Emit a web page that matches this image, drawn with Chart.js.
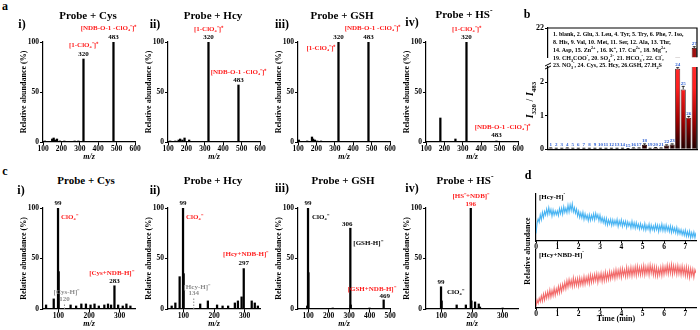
<!DOCTYPE html>
<html>
<head>
<meta charset="utf-8">
<script src="https://cdn.jsdelivr.net/npm/chart.js@4/dist/chart.umd.min.js"></script>
<style>
body { margin: 0; background: #fff; }
#fig { position: relative; width: 700px; height: 330px; overflow: hidden; background: #fff;
  font-family: "Liberation Serif", "Times New Roman", serif; font-weight: bold; color: #000; }
#fig canvas { position: absolute; }
.t { position: absolute; transform: translate(-50%, -50%); white-space: nowrap; line-height: 1; }
.l { transform: translate(0, -50%); }
.rot { transform: translate(-50%, -50%) rotate(-90deg); }
sup, sub { font-size: 70%; line-height: 0; }
</style>
</head>
<body>
<div id="fig"></div>
<script>
// ---- a) Probe + Analyt, Massenspektren (m/z, relative Intensität %)
const aCysMz = [110, 150, 158, 166, 176, 192, 216, 272, 292, 320, 483];
const aCysAb = [1, 3, 4, 2, 3, 1, 1, 1, 1, 83, 100];
const aHcyMz = [112, 140, 158, 166, 178, 190, 215, 320, 483];
const aHcyAb = [1, 1, 2, 3, 2, 4, 2, 100, 57];
const aGshMz = [105, 150, 176, 182, 192, 205, 225, 320, 483];
const aGshAb = [2, 1, 5, 3, 2, 1, 1, 100, 100];
const aHsMz = [178, 260, 320, 483];
const aHsAb = [24, 3, 100, 1];
const aTicks = [100, 200, 300, 400, 500, 600];

// ---- c) Probe + Analyt, negativer Modus
const cCysMz = [60, 85, 99, 101, 140, 158, 175, 190, 205, 218, 232, 250, 262, 272, 283, 295, 310, 322, 335];
const cCysAb = [4, 10, 100, 37, 4, 3, 5, 5, 4, 5, 3, 4, 5, 4, 23, 4, 3, 5, 3];
const cHcyMz = [62, 74, 88, 99, 101, 155, 180, 210, 228, 246, 268, 278, 290, 297, 323, 333, 343];
const cHcyAb = [3, 6, 32, 100, 35, 5, 8, 4, 3, 3, 6, 8, 12, 40, 8, 6, 3];
const cGshMz = [95, 99, 101, 220, 306, 308, 400, 469];
const cGshAb = [3, 100, 36, 1, 80, 4, 1, 9];
const cHsMz = [99, 101, 150, 180, 196, 198, 210, 222, 226, 300];
const cHsAb = [22, 8, 4, 4, 100, 8, 7, 5, 2, 1];
const cTicks = [100, 200, 300];
const cTicksGsh = [100, 200, 300, 400, 500];

// ---- b) Selektivität I320/I483
const bLabels = ['1','2','3','4','5','6','7','8','9','10','11','12','13','14','15','16','17','18','19','20','21','22','23','24','25','26','27'];
const bRatio = [0.03, 0.02, 0.02, 0.03, 0.02, 0.02, 0.02, 0.02, 0.02, 0.02, 0.02, 0.02, 0.02, 0.02, 0.01, 0.03, 0.03, 0.13, 0.02, 0.04, 0.03, 0.11, 0.14, 2.41, 1.79, 0.94, 8.6];
const bErr = [0.01, 0.01, 0.01, 0.01, 0.01, 0.01, 0.01, 0.01, 0.01, 0.01, 0.01, 0.01, 0.01, 0.01, 0.01, 0.01, 0.01, 0.03, 0.01, 0.01, 0.01, 0.02, 0.02, 0.03, 0.09, 0.04, 0.9];

// ---- d) Zeitverlauf (min)
const dTime = [0, 0.05, 0.1, 0.15, 0.2, 0.25, 0.3, 0.35, 0.4, 0.45,
  0.5, 0.55, 0.6, 0.65, 0.7, 0.75, 0.8, 0.85, 0.9, 0.95,
  1, 1.05, 1.1, 1.15, 1.2, 1.25, 1.3, 1.35, 1.4, 1.45,
  1.5, 1.55, 1.6, 1.65, 1.7, 1.75, 1.8, 1.85, 1.9, 1.95,
  2, 2.05, 2.1, 2.15, 2.2, 2.25, 2.3, 2.35, 2.4, 2.45,
  2.5, 2.55, 2.6, 2.65, 2.7, 2.75, 2.8, 2.85, 2.9, 2.95,
  3, 3.05, 3.1, 3.15, 3.2, 3.25, 3.3, 3.35, 3.4, 3.45,
  3.5, 3.55, 3.6, 3.65, 3.7, 3.75, 3.8, 3.85, 3.9, 3.95,
  4, 4.05, 4.1, 4.15, 4.2, 4.25, 4.3, 4.35, 4.4, 4.45,
  4.5, 4.55, 4.6, 4.65, 4.7, 4.75, 4.8, 4.85, 4.9, 4.95,
  5, 5.05, 5.1, 5.15, 5.2, 5.25, 5.3, 5.35, 5.4, 5.45,
  5.5, 5.55, 5.6, 5.65, 5.7, 5.75, 5.8, 5.85, 5.9, 5.95,
  6, 6.05, 6.1, 6.15, 6.2, 6.25, 6.3, 6.35, 6.4, 6.45,
  6.5, 6.55, 6.6, 6.65, 6.7, 6.75, 6.8, 6.85, 6.9, 6.95,
  7, 7.05, 7.1, 7.15, 7.2, 7.25, 7.3, 7.35, 7.4, 7.45, 7.5];
const dHcy = [16, 38, 47, 40, 56, 45, 61, 50, 63, 55,
  68, 56, 71, 58, 67, 53, 66, 55, 64, 56,
  64, 54, 69, 58, 70, 57, 73, 61, 70, 60,
  76, 62, 77, 65, 79, 62, 71, 59, 68, 53,
  63, 50, 60, 49, 61, 46, 58, 47, 55, 43,
  56, 44, 55, 46, 58, 45, 59, 48, 56, 43,
  55, 41, 50, 39, 49, 36, 48, 34, 45, 36,
  46, 33, 45, 34, 44, 35, 46, 31, 43, 34,
  45, 31, 42, 33, 42, 29, 41, 32, 39, 28,
  42, 29, 39, 27, 39, 28, 36, 25, 37, 26,
  34, 24, 37, 23, 33, 25, 36, 21, 34, 24,
  32, 22, 35, 24, 34, 20, 33, 23, 36, 22,
  33, 21, 34, 22, 31, 20, 32, 18, 30, 19,
  28, 17, 29, 15, 25, 15, 24, 13, 22, 12,
  23, 10, 20, 10, 21, 7, 18, 8, 19, 7, 18];
const dHcyNbd = [3, 14, 8, 17, 11, 21, 12, 24, 14, 26,
  17, 28, 18, 31, 19, 30, 21, 34, 22, 33,
  25, 37, 26, 39, 28, 41, 32, 44, 33, 47,
  36, 49, 38, 48, 37, 52, 38, 50, 39, 51,
  38, 52, 40, 51, 40, 54, 41, 53, 43, 55,
  42, 57, 44, 56, 45, 58, 47, 59, 44, 58,
  48, 60, 46, 59, 47, 62, 48, 60, 49, 63,
  50, 62, 52, 64, 51, 66, 53, 65, 54, 67,
  53, 68, 56, 66, 54, 70, 55, 68, 56, 70,
  55, 69, 57, 71, 56, 72, 58, 70, 57, 71,
  58, 73, 57, 71, 59, 72, 57, 74, 60, 72,
  57, 71, 56, 70, 55, 68, 57, 70, 56, 72,
  58, 71, 60, 74, 59, 73, 60, 75, 58, 73,
  60, 72, 58, 73, 59, 71, 57, 72, 58, 70,
  56, 71, 55, 69, 53, 68, 56, 67, 53, 66, 60];

const FONT = '"Liberation Serif", "Times New Roman", serif';
const RED = '#ff1e1e';
const fig = document.getElementById('fig');

function addCanvas(left, top, w, h) {
  const c = document.createElement('canvas');
  c.width = w; c.height = h;
  c.style.left = left + 'px'; c.style.top = top + 'px';
  c.style.width = w + 'px'; c.style.height = h + 'px';
  fig.appendChild(c);
  return c;
}

function addText(html, x, y, size, cls) {
  const d = document.createElement('div');
  d.className = 't' + (cls ? ' ' + cls : '');
  d.style.left = x + 'px'; d.style.top = y + 'px';
  d.style.fontSize = size + 'px';
  d.innerHTML = html;
  fig.appendChild(d);
}

// Beschriftungen an Peaks (Datenkoordinaten + Pixelversatz)
function notes(items) {
  return {
    id: 'notes',
    afterDatasetsDraw(chart) {
      const ctx = chart.ctx, sx = chart.scales.x, sy = chart.scales.y;
      ctx.save();
      items.forEach(n => {
        ctx.font = 'bold ' + (n.size || 7) + 'px ' + FONT;
        ctx.fillStyle = n.color || '#000';
        ctx.textAlign = n.align || 'center';
        ctx.textBaseline = 'middle';
        ctx.fillText(n.text, sx.getPixelForValue(n.x) + (n.dx || 0), sy.getPixelForValue(n.y) + (n.dy || 0));
      });
      ctx.restore();
    }
  };
}

const tickFont = { family: FONT, size: 7.5, weight: 'bold' };

function spectrum(o) {
  const padL = 4, yW = 28, plotW = 92, padR = 44, xH = 20;
  const cv = addCanvas(o.axisX - padL - yW, o.top - o.T, padL + yW + plotW + padR, o.T + (o.bottom - o.top) + xH);
  const datasets = [{
    type: 'bar',
    data: o.mz.map((m, i) => ({ x: m, y: o.ab[i] })),
    backgroundColor: '#000',
    barThickness: 1.6,
    grouped: false
  }];
  if (o.dashX) {
    datasets.push({
      type: 'line',
      data: [{ x: o.dashX, y: 0 }, { x: o.dashX, y: o.dashY }],
      borderColor: '#8c8c8c', borderWidth: 1, borderDash: [1.5, 1.5], pointRadius: 0
    });
  }
  new Chart(cv, {
    type: 'bar',
    data: { datasets },
    options: {
      responsive: false,
      animation: false,
      layout: { padding: { left: padL, top: o.T, right: padR, bottom: 0 } },
      plugins: { legend: { display: false }, tooltip: { enabled: false } },
      scales: {
        x: {
          type: 'linear', min: o.min, max: o.max, offset: false,
          grid: { display: true, drawOnChartArea: false, drawTicks: true, tickLength: 3, color: '#000', offset: false },
          border: { color: '#000', width: 1.2 },
          ticks: { font: tickFont, color: '#000', padding: 0, maxRotation: 0, autoSkip: false },
          afterBuildTicks: s => { s.ticks = o.ticks.map(v => ({ value: v })); },
          afterFit: s => { s.height = xH; },
          title: { display: true, text: 'm/z', color: '#000', padding: { top: 0, bottom: 0 },
            font: { family: FONT, size: 8, weight: 'bold', style: 'italic' } }
        },
        y: {
          min: 0, max: 100,
          grid: { display: true, drawOnChartArea: false, drawTicks: true, tickLength: 3, color: '#000' },
          border: { color: '#000', width: 1.2 },
          ticks: { font: tickFont, color: '#000', padding: 1 },
          afterBuildTicks: s => { s.ticks = [0, 50, 100].map(v => ({ value: v })); },
          afterFit: s => { s.width = yW; },
          title: { display: true, text: 'Relative abundance (%)', color: '#000', padding: { top: 4, bottom: 0 },
            font: { family: FONT, size: 8, weight: 'bold' } }
        }
      }
    },
    plugins: [notes(o.notes)]
  });
}

const NDB = '[NDB-O-1 -ClO₄⁻]⁺';
const ONE = '[1-ClO₄⁻]⁺';

// ---- Panel a
spectrum({ axisX: 43, top: 42, bottom: 142, T: 22, min: 100, max: 600, ticks: aTicks, mz: aCysMz, ab: aCysAb, notes: [
  { x: 483, y: 100, text: '483', dy: -5 }, { x: 483, y: 100, text: NDB, color: RED, dy: -14, dx: -5 },
  { x: 320, y: 83, text: '320', dy: -5 }, { x: 320, y: 83, text: ONE, color: RED, dy: -14 } ] });
spectrum({ axisX: 168, top: 42, bottom: 142, T: 22, min: 100, max: 600, ticks: aTicks, mz: aHcyMz, ab: aHcyAb, notes: [
  { x: 320, y: 100, text: '320', dy: -5 }, { x: 320, y: 100, text: ONE, color: RED, dy: -13 },
  { x: 483, y: 57, text: '483', dy: -5 }, { x: 483, y: 57, text: NDB, color: RED, dy: -13 } ] });
spectrum({ axisX: 298, top: 42, bottom: 142, T: 22, min: 100, max: 600, ticks: aTicks, mz: aGshMz, ab: aGshAb, notes: [
  { x: 320, y: 100, text: '320', dy: -5 }, { x: 320, y: 100, text: ONE, color: RED, align: 'right', dx: -3, dy: 6 },
  { x: 483, y: 100, text: '483', dy: -5 }, { x: 483, y: 100, text: NDB, color: RED, dy: -14, dx: 4 } ] });
spectrum({ axisX: 426, top: 42, bottom: 142, T: 22, min: 100, max: 600, ticks: aTicks, mz: aHsMz, ab: aHsAb, notes: [
  { x: 320, y: 100, text: '320', dy: -5 }, { x: 320, y: 100, text: ONE, color: RED, dy: -13 },
  { x: 483, y: 1, text: '483', dy: -6 }, { x: 483, y: 1, text: NDB, color: RED, dy: -14, dx: 6 } ] });

// ---- Panel c
spectrum({ axisX: 43, top: 208, bottom: 309, T: 16, min: 50, max: 350, ticks: cTicks, mz: cCysMz, ab: cCysAb,
  dashX: 120, dashY: 6, notes: [
  { x: 99, y: 100, text: '99', dy: -5 }, { x: 99, y: 100, text: 'ClO₄⁻', color: RED, align: 'left', dx: 3, dy: 9 },
  { x: 120, y: 6, text: '120', color: '#8c8c8c', dy: -4 }, { x: 120, y: 6, text: '[Cys-H]⁻', color: '#8c8c8c', dy: -11, dx: 2 },
  { x: 283, y: 23, text: '283', dy: -5 }, { x: 283, y: 23, text: '[Cys+NDB-H]⁻', color: RED, dy: -13, dx: -3 } ] });
spectrum({ axisX: 168, top: 208, bottom: 309, T: 16, min: 50, max: 350, ticks: cTicks, mz: cHcyMz, ab: cHcyAb,
  dashX: 134, dashY: 11, notes: [
  { x: 99, y: 100, text: '99', dy: -5 }, { x: 99, y: 100, text: 'ClO₄⁻', color: RED, align: 'left', dx: 3, dy: 9 },
  { x: 134, y: 11, text: '134', color: '#8c8c8c', dy: -5 }, { x: 134, y: 11, text: '[Hcy-H]⁻', color: '#8c8c8c', dy: -11, dx: 3 },
  { x: 297, y: 40, text: '297', dy: -5 }, { x: 297, y: 40, text: '[Hcy+NDB-H]⁻', color: RED, dy: -14, dx: 2 } ] });
spectrum({ axisX: 298, top: 208, bottom: 309, T: 16, min: 50, max: 500, ticks: cTicksGsh, mz: cGshMz, ab: cGshAb, notes: [
  { x: 99, y: 100, text: '99', dy: -5 }, { x: 99, y: 100, text: 'ClO₄⁻', align: 'left', dx: 4, dy: 9 },
  { x: 306, y: 80, text: '306', dy: -4, dx: -3 }, { x: 306, y: 80, text: '[GSH-H]⁻', align: 'left', dx: 3, dy: 15 },
  { x: 469, y: 9, text: '469', dy: -4, dx: 1 }, { x: 469, y: 9, text: '[GSH+NDB-H]⁻', color: RED, dy: -11, dx: -12 } ] });
spectrum({ axisX: 426, top: 208, bottom: 309, T: 16, min: 50, max: 350, ticks: cTicks, mz: cHsMz, ab: cHsAb, notes: [
  { x: 196, y: 100, text: '196', color: RED, dy: -4 }, { x: 196, y: 100, text: '[HS⁻+NDB]⁻', color: RED, dy: -12 },
  { x: 99, y: 22, text: '99', dy: -5 }, { x: 99, y: 22, text: 'ClO₄⁻', align: 'left', dx: 6, dy: 5 } ] });

// ---- Panel b (gebrochene y-Achse: zwei Diagramme)
function barFill(c) {
  const a = c.chart.chartArea;
  if (!a) return '#b00000';
  const g = c.chart.ctx.createLinearGradient(0, a.bottom, 0, a.top);
  g.addColorStop(0, '#1e0000');
  g.addColorStop(0.35, '#a00000');
  g.addColorStop(0.75, '#ff1f1f');
  g.addColorStop(1, '#ff2a2a');
  return g;
}

function barMarks() {
  return {
    id: 'barMarks',
    afterDatasetsDraw(chart) {
      const ctx = chart.ctx, sy = chart.scales.y, meta = chart.getDatasetMeta(0);
      ctx.save();
      meta.data.forEach((bar, i) => {
        const v = bRatio[i], e = bErr[i];
        if (v > sy.max || v < sy.min) return;
        const yv = sy.getPixelForValue(v), ye = sy.getPixelForValue(v + e);
        ctx.strokeStyle = '#000'; ctx.lineWidth = 0.8;
        ctx.beginPath();
        ctx.moveTo(bar.x, yv); ctx.lineTo(bar.x, ye);
        ctx.moveTo(bar.x - 1.5, ye); ctx.lineTo(bar.x + 1.5, ye);
        ctx.stroke();
        ctx.fillStyle = '#2d5fd3';
        ctx.font = 'bold 5px ' + FONT;
        ctx.textAlign = 'center'; ctx.textBaseline = 'bottom';
        ctx.fillText(bLabels[i], bar.x, ye - 0.5);
      });
      ctx.restore();
    }
  };
}

function frame(top, brk) {
  return {
    id: 'frame',
    afterDraw(chart) {
      const { ctx, chartArea: a } = chart;
      ctx.save();
      ctx.strokeStyle = '#000'; ctx.lineWidth = 1.2;
      ctx.beginPath();
      ctx.moveTo(a.right, a.bottom); ctx.lineTo(a.right, a.top);
      if (top) ctx.lineTo(a.left, a.top);
      ctx.stroke();
      if (brk) {
        ctx.lineWidth = 1;
        ctx.beginPath();
        ctx.moveTo(a.left - 3, a.top - 1); ctx.lineTo(a.left + 3, a.top - 4);
        ctx.moveTo(a.left - 3, a.top + 2); ctx.lineTo(a.left + 3, a.top - 1);
        ctx.stroke();
      }
      ctx.restore();
    }
  };
}

function ratioChart(cv, padTop, min, max, ticks, xH, fill, top, brk) {
  new Chart(cv, {
    type: 'bar',
    data: { labels: bLabels, datasets: [{ data: bRatio, backgroundColor: fill, borderColor: '#220000', borderWidth: 0.8,
      categoryPercentage: 1, barPercentage: 0.92, clip: 0 }] },
    options: {
      responsive: false, animation: false,
      layout: { padding: { left: 0, top: padTop, right: 3, bottom: 0 } },
      plugins: { legend: { display: false }, tooltip: { enabled: false } },
      scales: {
        x: { display: xH > 0, ticks: { display: false }, grid: { display: false }, border: { color: '#000', width: 1.2 },
          afterFit: s => { s.height = xH; } },
        y: {
          min, max,
          grid: { display: true, drawOnChartArea: false, drawTicks: true, tickLength: 3, color: '#000' },
          border: { color: '#000', width: 1.2 },
          ticks: { font: { family: FONT, size: 8, weight: 'bold' }, color: '#000', padding: 1 },
          afterBuildTicks: s => { s.ticks = ticks.map(v => ({ value: v })); },
          afterFit: s => { s.width = 12; }
        }
      }
    },
    plugins: [barMarks(), frame(top, brk)]
  });
}

ratioChart(addCanvas(536, 20, 164, 43), 8, 2.46, 22, [22], 0, '#a01010', true, false);
ratioChart(addCanvas(536, 60, 164, 95), 7, 0, 2.46, [0, 1, 2], 2, barFill, false, true);

// ---- Panel d
function traceChart(cv, padTop, plotH, xH, values, color, withTitle) {
  new Chart(cv, {
    type: 'line',
    data: { datasets: [{ data: dTime.map((t, i) => ({ x: t, y: values[i] })), borderColor: color, borderWidth: 1.1,
      pointRadius: 0, tension: 0 }] },
    options: {
      responsive: false, animation: false,
      layout: { padding: { left: 2, top: padTop, right: 4, bottom: 0 } },
      plugins: { legend: { display: false }, tooltip: { enabled: false } },
      scales: {
        x: {
          type: 'linear', min: 0, max: 7.5,
          grid: { display: true, drawOnChartArea: false, drawTicks: true, tickLength: 2, color: '#000' },
          border: { color: '#000', width: 1.2 },
          ticks: { font: tickFont, color: '#000', padding: 0, maxRotation: 0, autoSkip: false },
          afterBuildTicks: s => { s.ticks = [0, 1, 2, 3, 4, 5, 6, 7].map(v => ({ value: v })); },
          afterFit: s => { s.height = xH; },
          title: { display: withTitle, text: 'Time (min)', color: '#000', padding: { top: 0, bottom: 0 },
            font: { family: FONT, size: 8, weight: 'bold' } }
        },
        y: { min: 0, max: 100, ticks: { display: false }, grid: { display: false },
          border: { color: '#000', width: 1.2 }, afterFit: s => { s.width = 0; } }
      }
    }
  });
}

traceChart(addCanvas(534, 192, 166, 61), 2, 47, 12, dHcy, '#49b4f2', false);
traceChart(addCanvas(534, 248, 166, 76), 2, 58, 16, dHcyNbd, '#f26b6b', true);

// ---- Texte
addText('a', 5, 6, 12);
addText('b', 527, 14, 12);
addText('c', 5, 171, 12);
addText('d', 528, 175, 12);

addText('Probe + Cys', 88, 15, 11);
addText('Probe + Hcy', 213, 15, 11);
addText('Probe + GSH', 342, 15, 11);
addText('Probe + HS<sup>-</sup>', 464, 14, 11);
addText('i)', 22, 24, 12);
addText('ii)', 155, 24, 12);
addText('iii)', 282, 24, 12);
addText('iv)', 412, 22, 12);

addText('Probe + Cys', 86, 180, 11);
addText('Probe + Hcy', 213, 180, 11);
addText('Probe + GSH', 343, 180, 11);
addText('Probe + HS<sup>-</sup>', 465, 180, 11);
addText('i)', 21, 190, 12);
addText('ii)', 155, 190, 12);
addText('iii)', 282, 188, 12);
addText('iv)', 412, 188, 12);

addText('<i>I</i><sub>320</sub> / <i>I</i><sub>483</sub>', 530, 100, 10, 'rot');
addText('1. blank, 2. Glu, 3. Leu, 4. Tyr, 5. Try, 6. Phe, 7. Iso,', 553, 34, 6, 'l');
addText('8. His, 9. Val, 10. Met, 11. Ser, 12. Ala, 13. Thr,', 553, 42, 6, 'l');
addText('14. Asp, 15. Zn<sup>2+</sup> , 16. K<sup>+</sup>, 17. Cu<sup>2+</sup>, 18. Mg<sup>2+</sup>,', 553, 50, 6, 'l');
addText('19. CH<sub>3</sub>COO<sup>-</sup>, 20. SO<sub>4</sub><sup>2-</sup>, 21. HCO<sub>3</sub><sup>-</sup>, 22. Cl<sup>-</sup>,', 553, 58, 6, 'l');
addText('23. NO<sub>3</sub><sup>-</sup>, 24. Cys, 25. Hcy, 26.GSH, 27.H<sub>2</sub>S', 553, 65, 6, 'l');

addText('Relative abundance', 528, 251, 8, 'rot');
addText('[Hcy-H]<sup>-</sup>', 539, 197, 7, 'l');
addText('[Hcy+NBD-H]<sup>-</sup>', 539, 255, 7, 'l');
</script>
</body>
</html>
